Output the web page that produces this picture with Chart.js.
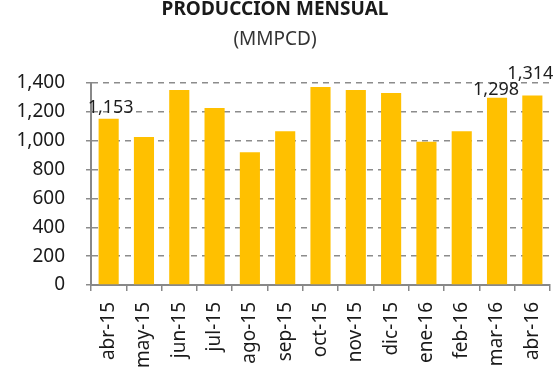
<!DOCTYPE html>
<html><head><meta charset="utf-8">
<script src="https://cdn.jsdelivr.net/npm/chart.js@4.4.1/dist/chart.umd.min.js"></script>
<style>html,body{margin:0;padding:0;background:#fff}#wrap{width:558px;height:367px}</style>
</head><body><div id="wrap"><canvas id="c" width="558" height="367"></canvas></div>
<script>
const categories = ["abr-15","may-15","jun-15","jul-15","ago-15","sep-15","oct-15","nov-15","dic-15","ene-16","feb-16","mar-16","abr-16"];
const production = [1153,1025,1352,1226,920,1066,1373,1352,1331,993,1066,1298,1314];
const yTicks = [0,200,400,600,800,1000,1200,1400];
const labeledIndexes = [0,11,12];
const titleText = "PRODUCCION MENSUAL";
const subtitleText = "(MMPCD)";

const FONT = "'Noto Sans', 'Open Sans', sans-serif";
const labelOffsets = {0:[2,-11],11:[-1,-8],12:[-2,-22]};

const valueLabels = {
  id:'valueLabels',
  afterDatasetsDraw(chart){
    const ctx = chart.ctx, meta = chart.getDatasetMeta(0);
    ctx.save();
    ctx.font = "18px " + FONT;
    ctx.fillStyle = "#1e1e1e";
    ctx.textAlign = "center";
    ctx.textBaseline = "middle";
    labeledIndexes.forEach(i=>{
      const el = meta.data[i];
      const off = labelOffsets[i] || [0,-10];
      ctx.fillText(production[i].toLocaleString('en-US'), el.x + off[0], el.y + off[1]);
    });
    ctx.restore();
  }
};

new Chart(document.getElementById('c'), {
  type:'bar',
  data:{labels:categories, datasets:[{data:production, backgroundColor:'#FFC000', borderWidth:0, barPercentage:0.57, categoryPercentage:1}]},
  options:{
    responsive:false, animation:false,
    layout:{padding:{left:0,right:8,top:0,bottom:0}},
    plugins:{
      legend:{display:false}, tooltip:{enabled:false},
      title:{display:true, text:titleText, color:'#1a1a1a', font:{family:FONT, size:19, weight:'bold', lineHeight:1}, padding:{top:0,bottom:11}},
      subtitle:{display:true, text:subtitleText, color:'#333', font:{family:FONT, size:19, lineHeight:1}, padding:{top:0,bottom:34}}
    },
    scales:{
      x:{
        grid:{display:true, drawOnChartArea:false, drawTicks:true, tickLength:6, color:'#888', lineWidth:1.5, offset:true},
        border:{display:true, color:'#888', width:2},
        ticks:{color:'#1a1a1a', font:{family:FONT, size:19}, maxRotation:90, minRotation:90, padding:11, autoSkip:false},
        afterFit(s){ s.height = 82; s.paddingLeft = 0; s.paddingRight = 0; }
      },
      y:{
        min:0, max:1400,
        afterBuildTicks(s){ s.ticks = yTicks.map(v=>({value:v})); },
        grid:{color:'#8c8c8c', lineWidth:1.5, drawTicks:true, tickLength:5, tickBorderDash:[6,5], tickColor:'#8c8c8c'},
        border:{display:true, color:'#888', width:2, dash:[6,5]},
        ticks:{color:'#1a1a1a', font:{family:FONT, size:19}, padding:21, callback:v=>v.toLocaleString('en-US')},
        afterFit(s){ s.width = 91; }
      }
    }
  },
  plugins:[valueLabels]
});
</script>
</body></html>
